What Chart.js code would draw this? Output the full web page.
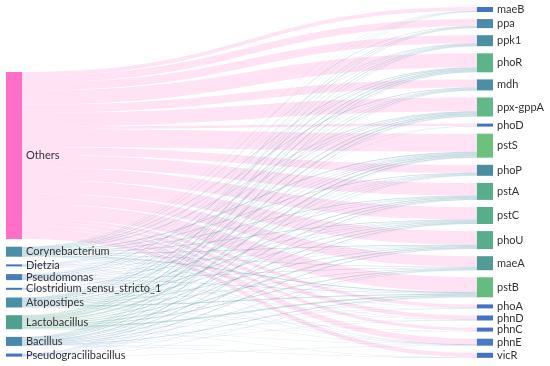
<!DOCTYPE html>
<html>
<head>
<meta charset="utf-8">
<script src="https://cdn.jsdelivr.net/npm/chart.js@4.4.0/dist/chart.umd.min.js"></script>
<style>
  html, body { margin: 0; background: #fff; }
  #wrap { width: 550px; height: 366px; }
</style>
</head>
<body>
<div id="wrap"><canvas id="chart"></canvas></div>
<script>
const sources = ['Others', 'Corynebacterium', 'Dietzia', 'Pseudomonas', 'Clostridium_sensu_stricto_1',
  'Atopostipes', 'Lactobacillus', 'Bacillus', 'Pseudogracilibacillus'];
const sourceColors = ['#ff6ec7', '#4b8fa6', '#4470c6', '#4a7dbd', '#4472c4',
  '#4a8fa6', '#4fa08e', '#4a87ad', '#4472c4'];

const targets = ['maeB', 'ppa', 'ppk1', 'phoR', 'mdh', 'ppx-gppA', 'phoD', 'pstS', 'phoP', 'pstA',
  'pstC', 'phoU', 'maeA', 'pstB', 'phoA', 'phnD', 'phnC', 'phnE', 'vicR'];
const targetColors = ['#4472c4', '#4a8aaa', '#4a90a4', '#5db48a', '#4a8fa4', '#62b887', '#4472c4',
  '#6cc17c', '#4a8e9e', '#58ae8a', '#58ae8a', '#58ad8a', '#519a96', '#66bc80', '#4472c4',
  '#4472c4', '#4472c4', '#4a7abf', '#4472c4'];

// one row per source, one column per target (same order as targets)
const othersFlow   = [3.8, 6.8, 8.1, 14, 8.2, 13.7, 2.3, 18, 8, 12.5, 12.5, 13.6, 10.6, 14.6, 3.2, 4, 3.2, 5.6, 4.3];
const corynFlow    = [0.3, 0.5, 0.5, 0.8, 0.6, 0.9, 0.1, 1.0, 0.6, 0.8, 0.8, 0.8, 0.7, 0.9, 0.2, 0.2, 0.1, 0.2, 0];
const dietziaFlow  = [0, 0, 0.2, 0.2, 0, 0.3, 0, 0.3, 0, 0.2, 0.2, 0.2, 0.1, 0.2, 0, 0, 0, 0.1, 0];
const pseudoFlow   = [0.2, 0.2, 0.3, 0.6, 0.3, 0.5, 0.2, 0.6, 0.3, 0.5, 0.5, 0.4, 0.3, 0.5, 0.1, 0.1, 0.1, 0.2, 0.1];
const clostFlow    = [0, 0, 0, 0.2, 0, 0.2, 0, 0.3, 0.2, 0.2, 0.2, 0.2, 0, 0.3, 0, 0, 0, 0.1, 0.1];
const atopoFlow    = [0.2, 0.4, 0.5, 0.9, 0.5, 1.0, 0.1, 1.1, 0.5, 0.8, 0.8, 0.8, 0.6, 1.0, 0.2, 0.2, 0.2, 0.1, 0.1];
const lactoFlow    = [0.3, 0.6, 0.7, 1.2, 0.7, 1.3, 0.2, 1.5, 0.7, 1.1, 1.1, 1.1, 0.9, 1.4, 0.2, 0.3, 0.2, 0.4, 0.1];
const bacillusFlow = [0.2, 0.4, 0.5, 0.8, 0.5, 0.8, 0.1, 0.9, 0.5, 0.7, 0.7, 0.7, 0.6, 0.8, 0.1, 0.2, 0.2, 0.2, 0.1];
const pgracFlow    = [0, 0.1, 0.2, 0.3, 0.2, 0.3, 0, 0.3, 0.2, 0.2, 0.2, 0.2, 0.2, 0.3, 0, 0, 0, 0.1, 0.2];
const flows = [othersFlow, corynFlow, dietziaFlow, pseudoFlow, clostFlow, atopoFlow, lactoFlow, bacillusFlow, pgracFlow];

// layout (in scale units)
const NODE_W = 0.033;
const LEFT_TOP = 65;
const LEFT_GAP = 7.7;
const RIGHT_GAP = 7.1;
const Y_MAX = 351;

function rgba(hex, a) {
  const n = parseInt(hex.slice(1), 16);
  return `rgba(${n >> 16}, ${(n >> 8) & 255}, ${n & 255}, ${a})`;
}

const sankeyPlugin = {
  id: 'sankey',
  afterDatasetsDraw(chart) {
    const { ctx, scales: { x, y } } = chart;
    const srcTotals = flows.map(r => r.reduce((a, b) => a + b, 0));
    const tgtTotals = targets.map((_, j) => flows.reduce((a, r) => a + r[j], 0));

    const srcY = [];
    let pos = LEFT_TOP;
    srcTotals.forEach(v => { srcY.push(pos); pos += v + LEFT_GAP; });
    const tgtY = [];
    pos = 0;
    tgtTotals.forEach(v => { tgtY.push(pos); pos += v + RIGHT_GAP; });

    const srcOff = srcY.slice();
    const tgtOff = tgtY.slice();
    const xs = x.getPixelForValue(NODE_W);
    const xt = x.getPixelForValue(1 - NODE_W);
    const mx = (xs + xt) / 2;

    ctx.save();
    // links, coloured by their source
    flows.forEach((row, i) => {
      ctx.fillStyle = rgba(sourceColors[i], i === 0 ? 0.2 : 0.3);
      row.forEach((v, j) => {
        if (!v) return;
        const a0 = y.getPixelForValue(srcOff[i]);
        const a1 = y.getPixelForValue(srcOff[i] + v);
        const b0 = y.getPixelForValue(tgtOff[j]);
        const b1 = y.getPixelForValue(tgtOff[j] + v);
        srcOff[i] += v;
        tgtOff[j] += v;
        ctx.beginPath();
        ctx.moveTo(xs, a0);
        ctx.bezierCurveTo(mx, a0, mx, b0, xt, b0);
        ctx.lineTo(xt, b1);
        ctx.bezierCurveTo(mx, b1, mx, a1, xs, a1);
        ctx.closePath();
        ctx.fill();
      });
    });

    // nodes and labels
    ctx.font = '11px Lato, sans-serif';
    ctx.textBaseline = 'middle';
    const x0 = x.getPixelForValue(0);
    const x1 = x.getPixelForValue(1);
    sources.forEach((name, i) => {
      const top = y.getPixelForValue(srcY[i]);
      const bot = y.getPixelForValue(srcY[i] + srcTotals[i]);
      ctx.fillStyle = sourceColors[i];
      ctx.fillRect(x0, top, xs - x0, Math.max(bot - top, 2));
      ctx.fillStyle = '#333';
      ctx.fillText(name, xs + 4, (top + bot) / 2);
    });
    targets.forEach((name, j) => {
      const top = y.getPixelForValue(tgtY[j]);
      const bot = y.getPixelForValue(tgtY[j] + tgtTotals[j]);
      ctx.fillStyle = targetColors[j];
      ctx.fillRect(xt, top, x1 - xt, Math.max(bot - top, 2));
      ctx.fillStyle = '#333';
      ctx.fillText(name, x1 + 4, (top + bot) / 2);
    });
    ctx.restore();
  }
};

new Chart(document.getElementById('chart'), {
  type: 'scatter',
  data: { datasets: [] },
  options: {
    responsive: true,
    maintainAspectRatio: false,
    animation: false,
    layout: { padding: { left: 6, right: 57, top: 7, bottom: 8 } },
    plugins: { legend: { display: false }, tooltip: { enabled: false } },
    scales: {
      x: { type: 'linear', min: 0, max: 1, display: false },
      y: { type: 'linear', min: 0, max: Y_MAX, reverse: true, display: false }
    }
  },
  plugins: [sankeyPlugin]
});
</script>
</body>
</html>
